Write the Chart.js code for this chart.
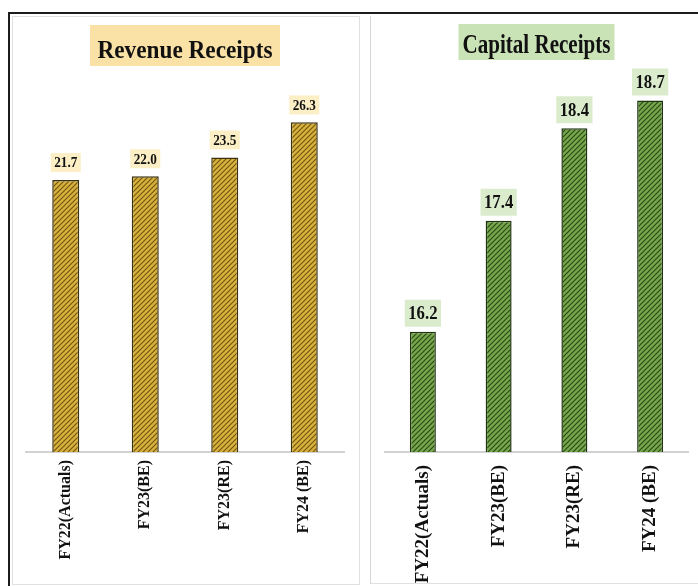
<!DOCTYPE html>
<html>
<head>
<meta charset="utf-8">
<script src="https://cdn.jsdelivr.net/npm/chart.js@4.4.1/dist/chart.umd.min.js"></script>
<style>
  body { margin: 0; background: #fff; width: 698px; height: 586px; overflow: hidden; position: relative; }
  .rule { position: absolute; }
  canvas { position: absolute; }
</style>
</head>
<body>
<!-- panel frames -->
<div class="rule" style="left:8px;top:12px;width:690px;height:2px;background:#1c1c1c"></div>
<div class="rule" style="left:8px;top:12px;width:2px;height:574px;background:#1c1c1c"></div>
<div class="rule" style="left:12px;top:16px;width:346px;height:567px;border:1px solid #e0e0e0"></div>
<div class="rule" style="left:370px;top:16px;width:330px;height:567px;border-left:1px solid #d6d6d6;border-bottom:1px solid #e0e0e0"></div>

<canvas id="revenue" width="346" height="571" style="left:12px;top:13px"></canvas>
<canvas id="capital" width="326" height="573" style="left:372px;top:13px"></canvas>

<script>
var years = ['FY22(Actuals)', 'FY23(BE)', 'FY23(RE)', 'FY24 (BE)'];
var revenueReceipts = [21.7, 22.0, 23.5, 26.3];
var capitalReceipts = [16.2, 17.4, 18.4, 18.7];

var serif = '"Liberation Serif", "Times New Roman", serif';

// small diagonal-stripe tile used as bar fill
function hatch(base, stripe) {
  var c = document.createElement('canvas');
  c.width = 5; c.height = 5;
  var g = c.getContext('2d');
  g.fillStyle = base;
  g.fillRect(0, 0, 5, 5);
  g.strokeStyle = stripe;
  g.lineWidth = 1.2;
  g.beginPath();
  g.moveTo(0, 5); g.lineTo(5, 0);
  g.moveTo(-1, 1); g.lineTo(1, -1);
  g.moveTo(4, 6); g.lineTo(6, 4);
  g.stroke();
  return g.createPattern(c, 'repeat');
}

// title box above the plot and boxed value labels over each bar
var panelDecor = {
  id: 'panelDecor',
  beforeDraw: function(chart, args, o) {
    var ctx = chart.ctx, area = chart.chartArea;
    var cx = (area.left + area.right) / 2;
    ctx.save();
    ctx.fillStyle = o.titleBox;
    ctx.fillRect(cx - o.titleW / 2, o.titleTop, o.titleW, o.titleH);
    ctx.font = 'bold ' + o.titleSize + 'px ' + serif;
    ctx.fillStyle = '#111';
    ctx.textAlign = 'center';
    ctx.textBaseline = 'alphabetic';
    ctx.translate(cx, o.titleBase);
    ctx.scale(o.titleSqueeze, 1);
    ctx.fillText(o.title, 0, 0);
    ctx.restore();
  },
  afterDatasetsDraw: function(chart, args, o) {
    var ctx = chart.ctx;
    var values = chart.data.datasets[0].data;
    ctx.save();
    ctx.font = 'bold ' + o.labelSize + 'px ' + serif;
    chart.getDatasetMeta(0).data.forEach(function(bar, i) {
      var text = values[i].toFixed(1);
      var w = ctx.measureText(text).width * o.labelSqueeze + o.labelPadX * 2;
      var bottom = bar.y - o.labelGap;
      ctx.fillStyle = o.labelBox;
      ctx.fillRect(bar.x - w / 2, bottom - o.labelH, w, o.labelH);
      ctx.save();
      ctx.fillStyle = '#111';
      ctx.textAlign = 'center';
      ctx.textBaseline = 'middle';
      ctx.translate(bar.x, bottom - o.labelH / 2 + 1);
      ctx.scale(o.labelSqueeze, 1);
      ctx.fillText(text, 0, 0);
      ctx.restore();
    });
    ctx.restore();
  }
};

function panel(id, values, p) {
  return new Chart(document.getElementById(id), {
    type: 'bar',
    data: {
      labels: years,
      datasets: [{
        data: values,
        backgroundColor: hatch(p.base, p.stripe),
        borderColor: p.edge,
        borderWidth: 1.5,
        categoryPercentage: 1,
        barPercentage: p.barPct
      }]
    },
    options: {
      responsive: false,
      animation: false,
      devicePixelRatio: 1,
      layout: { padding: p.padding },
      scales: {
        x: {
          grid: { display: false, drawTicks: false },
          border: { display: true, color: '#d2d2d2', width: 2 },
          ticks: {
            autoSkip: false,
            minRotation: 90,
            maxRotation: 90,
            padding: p.tickPad,
            color: '#111',
            font: { family: serif, weight: 'bold', size: p.tickSize }
          },
          afterFit: function(scale) { scale.height = p.axisH; }
        },
        y: { display: false, min: p.min, max: p.max }
      },
      plugins: {
        legend: { display: false },
        tooltip: { enabled: false },
        panelDecor: p.decor
      }
    },
    plugins: [panelDecor]
  });
}

panel('revenue', revenueReceipts, {
  base: '#d8b23e', stripe: '#74560c', edge: '#3b3210', barPct: 0.34,
  padding: { left: 14, right: 14, top: 63, bottom: 0 },
  min: 0, max: 30, axisH: 132, tickPad: 8, tickSize: 16,
  decor: {
    title: 'Revenue Receipts', titleBox: '#fae2a6',
    titleW: 190, titleTop: 12, titleH: 41, titleBase: 44.5, titleSize: 25, titleSqueeze: 0.93,
    labelBox: '#fcefc6', labelSize: 15, labelSqueeze: 0.88, labelPadX: 3.5, labelH: 19, labelGap: 8
  }
});

panel('capital', capitalReceipts, {
  base: '#78a64c', stripe: '#284c14', edge: '#1f3512', barPct: 0.343,
  padding: { left: 13, right: 10, top: 32, bottom: 0 },
  min: 14.9, max: 19.3, axisH: 134, tickPad: 13, tickSize: 19,
  decor: {
    title: 'Capital Receipts', titleBox: '#c9e2b6',
    titleW: 156, titleTop: 11, titleH: 36, titleBase: 40, titleSize: 27, titleSqueeze: 0.78,
    labelBox: '#dbeccd', labelSize: 19, labelSqueeze: 0.88, labelPadX: 3.5, labelH: 27, labelGap: 5
  }
});
</script>
</body>
</html>
